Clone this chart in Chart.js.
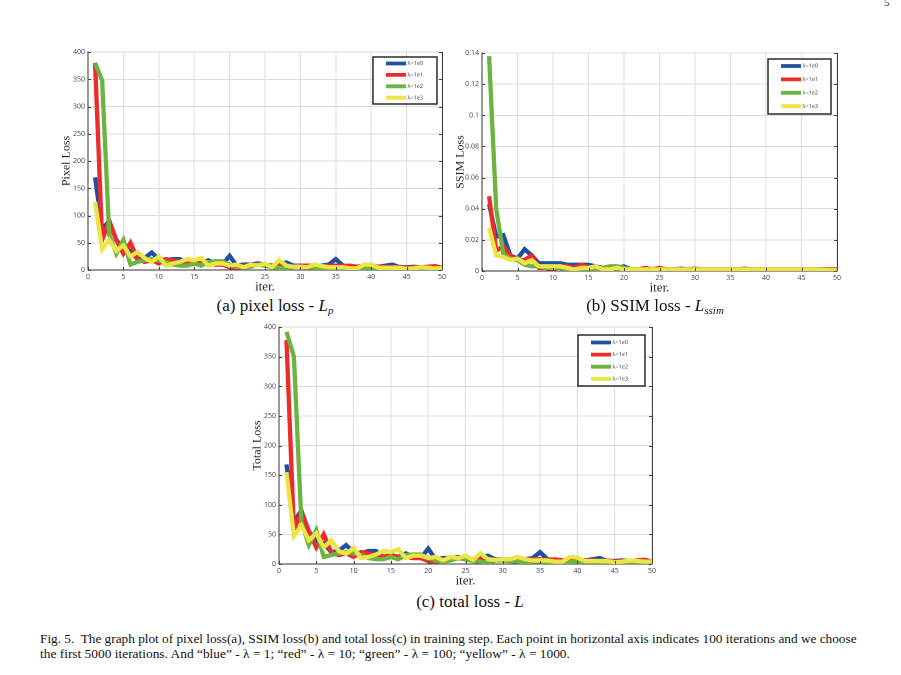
<!DOCTYPE html>
<html>
<head>
<meta charset="utf-8">
<script src="https://cdn.jsdelivr.net/npm/chart.js@4.4.1/dist/chart.umd.min.js"></script>
<style>
  html, body { margin: 0; padding: 0; background: #ffffff; }
  body { width: 901px; height: 675px; position: relative; overflow: hidden; }
  .box { position: absolute; }
  .sub { position: absolute; font-family: "Liberation Serif", "Times New Roman", serif; font-size: 17px; color: #111; white-space: nowrap; transform: translateX(-50%); }
  .sub i { font-style: italic; }
  .sub sub { font-size: 11px; font-style: italic; vertical-align: -3px; }
  .cap { position: absolute; left: 40px; font-family: "Liberation Serif", "Times New Roman", serif; font-size: 13.4px; color: #111; white-space: nowrap; }
  .pg { position: absolute; left: 884px; top: -4px; font-family: "Liberation Serif", serif; font-size: 11px; color: #222; }
</style>
</head>
<body>
<div class="pg">5</div>
<div class="box" style="left:50px;top:44px;width:400px;height:251px;"><canvas id="ca"></canvas></div>
<div class="box" style="left:444px;top:45px;width:401px;height:251px;"><canvas id="cb"></canvas></div>
<div class="box" style="left:241px;top:319px;width:419px;height:270px;"><canvas id="cc"></canvas></div>

<div class="sub" style="left:275px;top:296px;">(a) pixel loss - <i>L</i><sub>p</sub></div>
<div class="sub" style="left:655px;top:296px;">(b) SSIM loss - <i>L</i><sub>ssim</sub></div>
<div class="sub" style="left:470px;top:592px;">(c) total loss - <i>L</i></div>

<div class="cap" id="cap1" style="top:631px;">Fig. 5.&nbsp; The graph plot of pixel loss(a), SSIM loss(b) and total loss(c) in training step. Each point in horizontal axis indicates 100 iterations and we choose</div>
<div class="cap" style="top:646px;">the first 5000 iterations. And “blue” - λ&nbsp;=&nbsp;1; “red” - λ&nbsp;=&nbsp;10; “green” - λ&nbsp;=&nbsp;100; “yellow” - λ&nbsp;=&nbsp;1000.</div>

<script>
// ---------- data ----------
const ITER = [1,2,3,4,5,6,7,8,9,10,11,12,13,14,15,16,17,18,19,20,21,22,23,24,25,26,27,28,29,30,31,32,33,34,35,36,37,38,39,40,41,42,43,44,45,46,47,48,49,50];
const SERIES_LABELS = ['λ=1e0', 'λ=1e1', 'λ=1e2', 'λ=1e3'];
const X_TICKS = [0,5,10,15,20,25,30,35,40,45,50];

const PIXEL_BLUE   = [170,75,90,55,40,35,20,22,32,20,18,20,20,12,15,12,18,12,10,26,8,10,10,12,10,8,10,14,8,8,8,6,8,10,20,8,7,6,8,8,6,8,10,5,5,6,5,4,5,4];
const PIXEL_RED    = [380,55,90,55,30,50,20,15,18,12,20,18,15,12,15,12,12,10,10,5,3,8,8,10,8,7,8,5,6,8,8,8,6,8,8,7,8,6,6,5,6,6,5,6,4,5,5,6,7,4];
const PIXEL_GREEN  = [380,348,65,30,55,10,15,18,20,18,15,10,8,8,12,8,15,16,16,10,6,5,6,10,8,5,4,2,6,6,5,4,3,4,4,3,3,2,3,4,3,4,3,2,3,3,2,2,2,5];
const PIXEL_YELLOW = [125,38,55,35,45,25,33,22,15,25,8,12,15,20,18,22,8,12,12,8,10,5,10,8,12,5,18,8,6,6,5,10,7,5,5,5,3,3,10,10,4,4,4,4,2,3,5,4,3,3];

const SSIM_BLUE   = [0.043,0.022,0.023,0.010,0.008,0.014,0.010,0.005,0.005,0.005,0.005,0.004,0.004,0.004,0.004,0.003,0.002,0.002,0.002,0.003,0.001,0.001,0.001,0.001,0.001,0.001,0.001,0.0015,0.001,0.001,0.001,0.001,0.001,0.001,0.001,0.001,0.001,0.001,0.001,0.001,0.001,0.001,0.001,0.001,0.001,0.001,0.001,0.001,0.0008,0.0005];
const SSIM_RED    = [0.048,0.013,0.016,0.010,0.007,0.007,0.010,0.002,0.002,0.001,0.003,0.003,0.002,0.004,0.002,0.002,0.002,0.002,0.002,0.002,0.001,0.001,0.002,0.001,0.002,0.001,0.001,0.001,0.001,0.0015,0.001,0.001,0.001,0.001,0.001,0.001,0.0015,0.001,0.001,0.001,0.001,0.001,0.001,0.001,0.001,0.001,0.001,0.001,0.001,0.001];
const SSIM_GREEN  = [0.138,0.040,0.011,0.008,0.007,0.004,0.003,0.003,0.002,0.002,0.002,0.001,0.001,0.001,0.001,0.001,0.002,0.003,0.003,0.002,0.001,0.001,0.001,0.001,0.001,0.001,0.001,0.0005,0.0005,0.0005,0.0005,0.0005,0.0005,0.0005,0.0005,0.0005,0.0005,0.0005,0.0005,0.0005,0.0005,0.0005,0.0005,0.0005,0.0005,0.0005,0.0005,0.0005,0.0005,0.0005];
const SSIM_YELLOW = [0.028,0.010,0.009,0.007,0.008,0.005,0.007,0.003,0.003,0.003,0.003,0.002,0.001,0.002,0.002,0.003,0.001,0.001,0.002,0.001,0.001,0.001,0.001,0.001,0.001,0.001,0.001,0.001,0.001,0.001,0.001,0.001,0.001,0.001,0.001,0.001,0.001,0.001,0.001,0.001,0.001,0.001,0.001,0.001,0.001,0.001,0.001,0.0008,0.0005,0.0005];

const TOTAL_BLUE   = [168,72,90,55,40,35,20,22,32,20,18,22,22,12,15,12,18,12,10,26,8,10,10,12,10,8,10,14,8,8,8,6,8,10,20,8,7,6,8,8,6,8,10,5,5,6,5,4,5,4];
const TOTAL_RED    = [378,58,88,55,28,50,20,15,18,12,20,18,15,12,15,12,12,10,10,5,3,8,8,10,8,7,8,5,6,8,8,8,6,8,8,7,8,6,6,5,6,6,5,6,4,5,5,6,7,4];
const TOTAL_GREEN  = [392,350,70,32,57,12,15,18,20,18,15,10,8,8,12,8,15,16,16,10,6,5,6,10,8,5,4,2,6,6,5,4,3,4,4,3,3,2,3,4,3,4,3,2,3,3,2,2,2,5];
const TOTAL_YELLOW = [155,47,65,40,52,28,40,22,17,27,10,12,16,22,20,25,10,14,14,10,12,6,12,10,14,7,18,8,7,8,8,12,8,6,6,6,4,4,12,11,5,5,5,5,3,4,6,5,4,4];

const COLORS = ['#2150a3', '#ee2a2a', '#6cb43f', '#ece545'];

// fit first caption line to the text block width
(function () {
  const el = document.getElementById('cap1');
  const target = 817;
  const w = el.scrollWidth;
  const spaces = (el.textContent.match(/ /g) || []).length;
  if (w < target && spaces) el.style.wordSpacing = ((target - w) / spaces) + 'px';
  else if (w > target) el.style.fontSize = (13.4 * target / w) + 'px';
})();

// ---------- helpers ----------
function pts(vals) { return ITER.map((x, i) => ({ x: x, y: vals[i] })); }

const frameAndLegend = {
  id: 'frameAndLegend',
  afterDatasetsDraw(chart, args, opts) {
    const ctx = chart.ctx;
    const a = chart.chartArea;
    const xs = chart.scales.x, ys = chart.scales.y;
    ctx.save();
    ctx.strokeStyle = '#3a3a3a';
    ctx.lineWidth = 1;
    ctx.beginPath();
    ctx.moveTo(a.right + 0.5, a.top);
    ctx.lineTo(a.right + 0.5, a.bottom);
    ctx.stroke();
    ctx.strokeStyle = '#444';
    ctx.beginPath();
    xs.ticks.forEach(t => {
      const px = Math.round(xs.getPixelForValue(t.value)) + 0.5;
      ctx.moveTo(px, a.bottom); ctx.lineTo(px, a.bottom - 3);
    });
    ys.ticks.forEach(t => {
      const py = Math.round(ys.getPixelForValue(t.value)) + 0.5;
      ctx.moveTo(a.left, py); ctx.lineTo(a.left + 3, py);
      ctx.moveTo(a.right, py); ctx.lineTo(a.right - 3, py);
    });
    ctx.stroke();
    const w = opts.w, h = opts.h;
    const bx = Math.round(a.right - opts.dx - w), by = Math.round(a.top + opts.dy);
    ctx.fillStyle = '#ffffff';
    ctx.fillRect(bx, by, w, h);
    ctx.strokeStyle = '#2a2a2a';
    ctx.lineWidth = 1.5;
    ctx.strokeRect(bx, by, w, h);
    const step = opts.step;
    ctx.font = '5.5px "Open Sans", sans-serif';
    ctx.textBaseline = 'middle';
    chart.data.datasets.forEach((ds, i) => {
      const yy = by + opts.first + i * step;
      ctx.strokeStyle = ds.borderColor;
      ctx.lineWidth = 3.8;
      ctx.lineCap = 'butt';
      ctx.beginPath();
      ctx.moveTo(bx + 13, yy); ctx.lineTo(bx + 33, yy);
      ctx.stroke();
      ctx.fillStyle = '#333';
      ctx.fillText(ds.label, bx + 34.5, yy);
    });
    ctx.restore();
  }
};

function makeChart(id, series, yMax, yStep, yTitle, yFmt, legendOpts) {
  const datasets = series.map((vals, i) => ({
    label: SERIES_LABELS[i],
    data: pts(vals),
    borderColor: COLORS[i],
    backgroundColor: COLORS[i],
    borderWidth: 4.3,
    pointRadius: 0,
    tension: 0,
    order: 4 - i
  }));
  return new Chart(document.getElementById(id), {
    type: 'line',
    data: { datasets },
    options: {
      responsive: true,
      maintainAspectRatio: false,
      animation: false,
      devicePixelRatio: 2,
      layout: { padding: { top: 8, right: 8, left: 0, bottom: 0 } },
      plugins: {
        legend: { display: false },
        tooltip: { enabled: false },
        frameAndLegend: legendOpts
      },
      scales: {
        x: {
          type: 'linear',
          min: 0, max: 50,
          afterBuildTicks: (s) => { s.ticks = X_TICKS.map(v => ({ value: v })); },
          afterFit: (s) => { s.height = 25; },
          grid: { color: '#dcdcdc', lineWidth: 1, drawTicks: false },
          border: { color: '#333', width: 1 },
          ticks: { font: { family: '"Open Sans", sans-serif', size: 7 }, color: '#3d3d58', padding: 3, maxRotation: 0, autoSkip: false },
          title: { display: true, text: 'iter.', font: { family: '"Liberation Serif", serif', size: 13 }, color: '#222', padding: { top: 0, bottom: 0 } }
        },
        y: {
          min: 0, max: yMax,
          afterFit: (s) => { s.width = 38; },
          grid: { color: '#dcdcdc', lineWidth: 1, drawTicks: false },
          border: { color: '#333', width: 1 },
          ticks: { stepSize: yStep, font: { family: '"Open Sans", sans-serif', size: 7 }, color: '#3d3d58', padding: 3, callback: yFmt },
          title: { display: true, text: yTitle, font: { family: '"Liberation Serif", serif', size: 12 }, color: '#222', padding: { top: 9, bottom: 0 } }
        }
      }
    },
    plugins: [frameAndLegend]
  });
}

const intFmt = (v) => String(v);
const decFmt = (v) => String(+v.toFixed(2));

makeChart('ca', [PIXEL_BLUE, PIXEL_RED, PIXEL_GREEN, PIXEL_YELLOW], 400, 50, 'Pixel Loss', intFmt,
  { w: 64, h: 47, dx: 5, dy: 5, first: 6.5, step: 11.4 });
makeChart('cb', [SSIM_BLUE, SSIM_RED, SSIM_GREEN, SSIM_YELLOW], 0.14, 0.02, 'SSIM Loss', decFmt,
  { w: 63, h: 55, dx: 6.5, dy: 5.5, first: 7, step: 13.4 });
makeChart('cc', [TOTAL_BLUE, TOTAL_RED, TOTAL_GREEN, TOTAL_YELLOW], 400, 50, 'Total Loss', intFmt,
  { w: 67, h: 51, dx: 7, dy: 7.5, first: 7.5, step: 12.1 });
</script>
</body>
</html>
